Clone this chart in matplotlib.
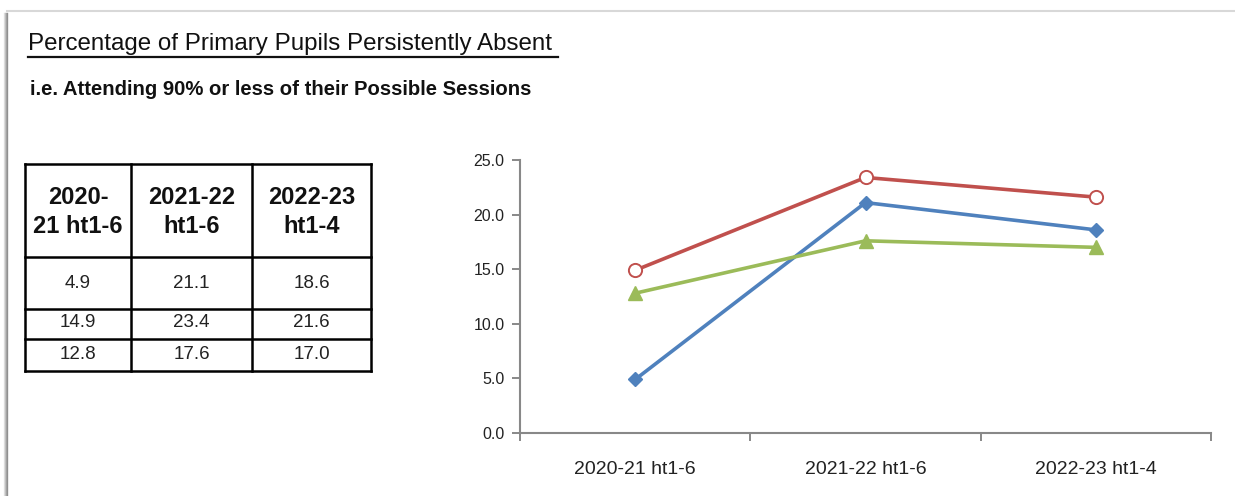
import matplotlib.pyplot as plt
from matplotlib.lines import Line2D

# absence data (% of primary pupils persistently absent)
periods = ["2020-21 ht1-6", "2021-22 ht1-6", "2022-23 ht1-4"]
header_labels = ["2020-\n21 ht1-6", "2021-22\nht1-6", "2022-23\nht1-4"]
blue_series = [4.9, 21.1, 18.6]
red_series = [14.9, 23.4, 21.6]
green_series = [12.8, 17.6, 17.0]

title = "Percentage of Primary Pupils Persistently Absent"
subtitle = "i.e. Attending 90% or less of their Possible Sessions"

W, H = 1235, 496
sans = ["Liberation Sans", "DejaVu Sans"]

fig = plt.figure(figsize=(W / 100, H / 100), dpi=100)
fig.patch.set_facecolor("white")


def fx(px):
    return px / W


def fy(py):
    return 1 - py / H


# sheet edge with a soft shadow
for i, a in enumerate([0.10, 0.18, 0.28, 0.40]):
    fig.add_artist(Line2D([fx(4 + i), fx(4 + i)], [fy(13), fy(H)], color="black",
                          alpha=a, lw=1, transform=fig.transFigure))
fig.add_artist(Line2D([fx(7), fx(W)], [fy(10.5), fy(10.5)], color="#d8d8d8", lw=1.5,
                      transform=fig.transFigure))

# headings
fig.text(fx(28), fy(50), title, family=sans, fontsize=17.4, va="baseline", ha="left",
         color="#111111")
fig.add_artist(Line2D([fx(28), fx(558)], [fy(57), fy(57)], color="#111111", lw=1.6,
                      transform=fig.transFigure))
fig.text(fx(30), fy(95), subtitle, family=sans, fontsize=14.6, fontweight="bold",
         va="baseline", ha="left", color="#111111")

# data table, drawn in pixel units
tab = fig.add_axes([fx(25), fy(371), fx(371) - fx(25), fy(164) - fy(371)])
tab.set_xlim(25, 371)
tab.set_ylim(371, 164)
tab.axis("off")
col_edges = [25, 131, 252, 371]
row_edges = [164, 257, 309, 339, 371]
for x in col_edges:
    tab.plot([x, x], [row_edges[0], row_edges[-1]], color="black", lw=1.8,
             solid_capstyle="projecting", clip_on=False)
for y in row_edges:
    tab.plot([col_edges[0], col_edges[-1]], [y, y], color="black", lw=1.8,
             solid_capstyle="projecting", clip_on=False)
rows = [blue_series, red_series, green_series]
row_centres = [284, 323, 355]
for j, lab in enumerate(header_labels):
    cx = (col_edges[j] + col_edges[j + 1]) / 2
    tab.text(cx, 212, lab, family=sans, fontsize=17, fontweight="bold",
             ha="center", va="center", linespacing=1.35, color="#111111")
    for vals, cy in zip(rows, row_centres):
        tab.text(cx, cy, f"{vals[j]:.1f}", family=sans, fontsize=13.5,
                 ha="center", va="center", color="#222222")

# line chart
ax = fig.add_axes([fx(520), fy(433), fx(1211) - fx(520), fy(160) - fy(433)])
x = range(len(periods))
ax.plot(x, blue_series, color="#4F81BD", lw=2.6, marker="D", ms=7.5, zorder=3)
ax.plot(x, red_series, color="#C0504D", lw=2.6, marker="o", ms=9.5, mfc="white",
        mec="#C0504D", mew=1.4, zorder=3)
ax.plot(x, green_series, color="#9BBB59", lw=2.6, marker="^", ms=9.5, zorder=3)

ax.set_xlim(-0.5, len(periods) - 0.5)
ax.set_ylim(0, 25)
ax.set_yticks([0, 5, 10, 15, 20, 25])
ax.set_yticklabels([f"{v:.1f}" for v in [0, 5, 10, 15, 20, 25]], family=sans,
                   fontsize=11.5, color="#222222")
ax.set_xticks([-0.5, 0.5, 1.5, 2.5])
ax.set_xticklabels([])
ax.set_xticks(list(x), minor=True)
ax.set_xticklabels(periods, minor=True, family=sans, fontsize=14, color="#222222")
ax.tick_params(axis="x", which="minor", length=0, pad=20)
ax.tick_params(axis="both", which="major", length=6, width=1.4, color="#888888",
               direction="out")
ax.tick_params(axis="y", pad=5)
for s in ["top", "right"]:
    ax.spines[s].set_visible(False)
for s in ["left", "bottom"]:
    ax.spines[s].set_color("#888888")
    ax.spines[s].set_linewidth(1.5)
ax.set_facecolor("none")

fig.savefig("out.png", dpi=100, facecolor="white")
